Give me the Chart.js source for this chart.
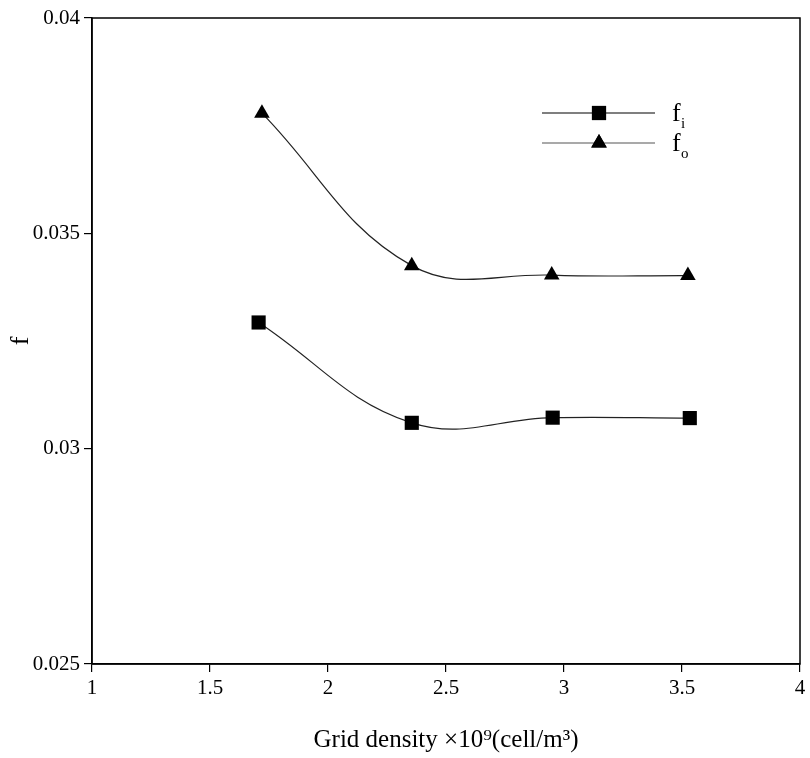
<!DOCTYPE html>
<html>
<head>
<meta charset="utf-8">
<script src="https://cdn.jsdelivr.net/npm/chart.js@4.4.1/dist/chart.umd.min.js"></script>
<style>
  html, body { margin: 0; padding: 0; background: #fff; }
  #wrap { width: 810px; height: 758px; }
</style>
</head>
<body>
<div id="wrap"><canvas id="chart" width="810" height="758"></canvas></div>
<script>
// grid density (x10^9 cell/m^3) and friction factor values
const fiX = [1.706, 2.355, 2.952, 3.533];
const fiY = [0.03293, 0.03060, 0.03072, 0.03071];
const foX = [1.720, 2.355, 2.948, 3.525];
const foY = [0.03779, 0.03425, 0.03403, 0.03402];
const xTicks = [1, 1.5, 2, 2.5, 3, 3.5, 4];
const yTicks = [0.025, 0.03, 0.035, 0.04];

const SERIF = '"Liberation Serif", "Times New Roman", serif';

const toPoints = (xs, ys) => xs.map((x, i) => ({ x: x, y: ys[i] }));

// frame box + legend drawn by hand (line, marker, subscript label)
const boxAndLegend = {
    id: 'boxAndLegend',
    afterDraw(chart) {
        const ctx = chart.ctx;
        const a = chart.chartArea;
        ctx.save();
        ctx.strokeStyle = '#000';
        ctx.lineWidth = 1.5;
        ctx.strokeRect(a.left, a.top, a.right - a.left, a.bottom - a.top);

        const items = [
            { y: 113, sub: 'i', color: '#000', style: 'rect', r: 10 },
            { y: 143, sub: 'o', color: '#555', style: 'triangle', r: 9 }
        ];
        items.forEach(it => {
            ctx.strokeStyle = it.color;
            ctx.lineWidth = 1.2;
            ctx.beginPath();
            ctx.moveTo(542, it.y);
            ctx.lineTo(655, it.y);
            ctx.stroke();
            ctx.fillStyle = '#000';
            Chart.helpers.drawPoint(ctx, { pointStyle: it.style, radius: it.r, borderWidth: 0 }, 599, it.y);
            ctx.fill();
            ctx.fillStyle = '#000';
            ctx.textBaseline = 'alphabetic';
            ctx.font = '26px ' + SERIF;
            ctx.fillText('f', 672, it.y + 8);
            ctx.font = '15px ' + SERIF;
            ctx.fillText(it.sub, 681, it.y + 15);
        });
        ctx.restore();
    }
};

document.addEventListener('DOMContentLoaded', () => {
    new Chart(document.getElementById('chart'), {
        type: 'line',
        data: {
            datasets: [
                {
                    label: 'fi',
                    data: toPoints(fiX, fiY),
                    borderColor: '#222',
                    borderWidth: 1.2,
                    tension: 0.4,
                    pointStyle: 'rect',
                    pointRadius: 10,
                    pointBackgroundColor: '#000',
                    pointBorderWidth: 0
                },
                {
                    label: 'fo',
                    data: toPoints(foX, foY),
                    borderColor: '#222',
                    borderWidth: 1.2,
                    tension: 0.4,
                    pointStyle: 'triangle',
                    pointRadius: 9,
                    pointBackgroundColor: '#000',
                    pointBorderWidth: 0
                }
            ]
        },
        options: {
            responsive: false,
            animation: false,
            layout: { padding: { top: 18, right: 6, left: 0, bottom: 0 } },
            plugins: { legend: { display: false }, tooltip: { enabled: false } },
            scales: {
                x: {
                    type: 'linear',
                    min: 1, max: 4,
                    afterFit: s => { s.height = 94; },
                    afterBuildTicks: s => { s.ticks = xTicks.map(v => ({ value: v })); },
                    ticks: {
                        color: '#000',
                        font: { family: SERIF, size: 21 },
                        padding: 4,
                        maxRotation: 0,
                        callback: v => String(v)
                    },
                    grid: { drawOnChartArea: false, tickLength: 8, color: '#000', lineWidth: 1.2 },
                    border: { color: '#000', width: 1.5 },
                    title: {
                        display: true,
                        text: 'Grid density ×10⁹(cell/m³)',
                        color: '#000',
                        font: { family: SERIF, size: 25 },
                        padding: { top: 0, bottom: 3 }
                    }
                },
                y: {
                    type: 'linear',
                    min: 0.025, max: 0.04,
                    afterFit: s => { s.width = 92; },
                    afterBuildTicks: s => { s.ticks = yTicks.map(v => ({ value: v })); },
                    ticks: {
                        color: '#000',
                        font: { family: SERIF, size: 21 },
                        padding: 4,
                        callback: v => String(parseFloat(v.toFixed(3)))
                    },
                    grid: { drawOnChartArea: false, tickLength: 8, color: '#000', lineWidth: 1.2 },
                    border: { color: '#000', width: 1.5 },
                    title: {
                        display: true,
                        text: 'f',
                        color: '#000',
                        font: { family: SERIF, size: 26 },
                        padding: { top: 6, bottom: 6 }
                    }
                }
            }
        },
        plugins: [boxAndLegend]
    });
});
</script>
</body>
</html>
